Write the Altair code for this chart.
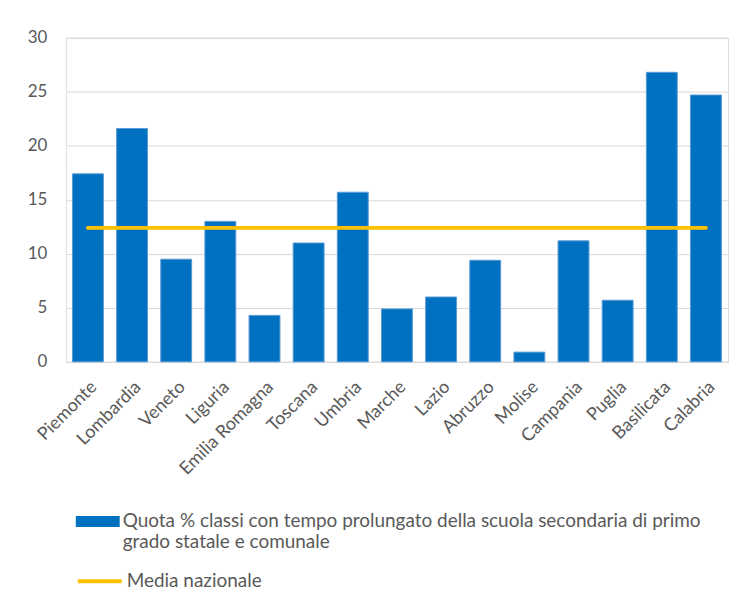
import altair as alt
import pandas as pd

regioni = ["Piemonte", "Lombardia", "Veneto", "Liguria", "Emilia Romagna", "Toscana",
           "Umbria", "Marche", "Lazio", "Abruzzo", "Molise", "Campania", "Puglia",
           "Basilicata", "Calabria"]
quota = [17.4, 21.6, 9.5, 13.0, 4.3, 11.0, 15.7, 4.9, 6.0, 9.4, 0.9, 11.2, 5.7, 26.8, 24.7]
media_nazionale = 12.4
y_ticks = [0, 5, 10, 15, 20, 25, 30]

serie_barre = "Quota % classi con tempo prolungato della scuola secondaria di primo grado statale e comunale"
serie_linea = "Media nazionale"

df = pd.DataFrame({
    "regione": regioni,
    "quota": quota,
    "media": [media_nazionale] * len(regioni),
    "s1": serie_barre,
    "s2": serie_linea,
})

FONT = "Lato"
GREY = "#595959"

x_enc = alt.X("regione:N", sort=regioni, title=None,
              scale=alt.Scale(paddingInner=0.3, paddingOuter=0.15),
              axis=alt.Axis(labelAngle=-45, labelAlign="right", labelBaseline="top",
                            labelFontSize=18, labelColor=GREY, labelFont=FONT,
                            ticks=False, domain=True, domainColor="#d9d9d9",
                            labelPadding=16, grid=False))

bars = alt.Chart(df).mark_bar(stroke="#5b9bd5", strokeWidth=1).encode(
    x=x_enc,
    y=alt.Y("quota:Q", title=None,
            scale=alt.Scale(domain=[0, 30], nice=False),
            axis=alt.Axis(values=y_ticks, labelFontSize=17, labelColor=GREY, labelFont=FONT,
                          ticks=False, domain=False, gridColor="#d9d9d9", labelPadding=19)),
    fill=alt.Fill("s1:N", scale=alt.Scale(domain=[serie_barre], range=["#0070c0"]),
                  legend=alt.Legend(title=None, orient="none", legendX=10, legendY=463,
                                    symbolType="M-1,-0.25L1,-0.25L1,0.25L-1,0.25Z",
                                    symbolSize=1936, symbolStrokeWidth=0,
                                    labelFontSize=19, labelColor=GREY, labelFont=FONT,
                                    labelLimit=0, labelOffset=3,
                                    labelExpr="datum.label == '" + serie_barre + "' ? ['Quota % classi con tempo prolungato della scuola secondaria di primo', 'grado statale e comunale'] : datum.label")),
)

line = alt.Chart(df).mark_line(strokeWidth=4, strokeCap="round").encode(
    x=alt.X("regione:N", sort=regioni),
    y=alt.Y("media:Q"),
    stroke=alt.Stroke("s2:N", scale=alt.Scale(domain=[serie_linea], range=["#ffc000"]),
                      legend=alt.Legend(title=None, orient="none", legendX=10, legendY=521,
                                        symbolType="stroke", symbolSize=1936,
                                        symbolStrokeWidth=4,
                                        labelFontSize=19, labelColor=GREY, labelFont=FONT,
                                        labelLimit=0, labelOffset=3)),
)

chart = alt.layer(bars, line).properties(
    width=664, height=325,
    padding={"left": 19, "top": 20, "right": 5, "bottom": 5},
).configure_view(stroke=None).configure(background="white")

chart.save("out.html", embed_options={"renderer": "svg", "actions": False})
